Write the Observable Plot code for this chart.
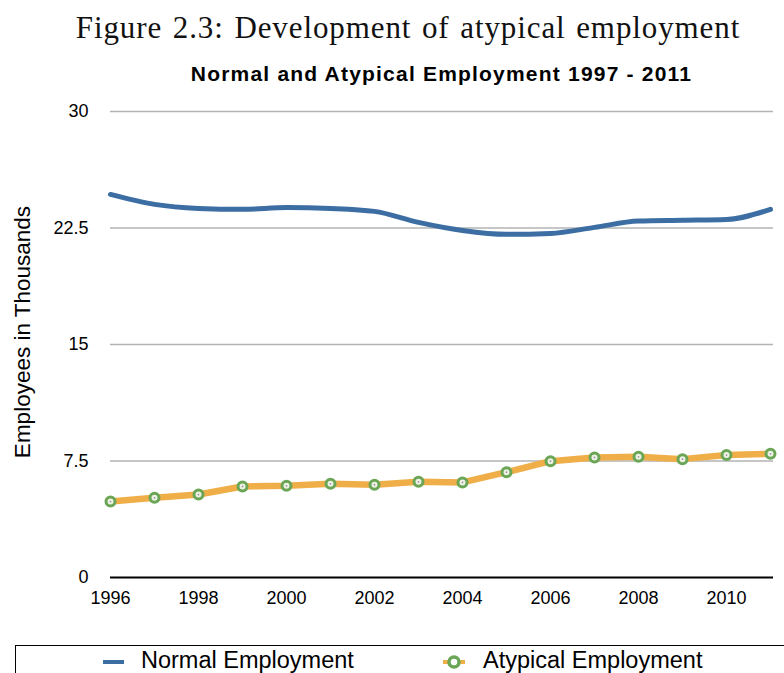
<!DOCTYPE html>
<html>
<head>
<meta charset="utf-8">
<script src="https://cdn.jsdelivr.net/npm/d3@7"></script>
<script src="https://cdn.jsdelivr.net/npm/@observablehq/plot@0.6"></script>
<style>
  html, body { margin: 0; padding: 0; background: #fff; }
  #wrap { position: relative; width: 784px; height: 673px; overflow: hidden; font-family: "Liberation Sans", Arial, sans-serif; }
  #caption { position: absolute; left: 0; width: 816px; top: 10px; text-align: center; font-family: "Liberation Serif", "DejaVu Serif", serif; font-size: 31px; letter-spacing: 0.9px; word-spacing: 2px; color: #111; white-space: nowrap; }
  #title { position: absolute; left: 110px; width: 663px; top: 62px; text-align: center; font-weight: bold; font-size: 21px; letter-spacing: 1.2px; color: #000; white-space: nowrap; }
  #ylabel { position: absolute; left: 23px; top: 332px; transform: translate(-50%, -50%) rotate(-90deg); font-size: 22.5px; white-space: nowrap; color: #000; }
  #chart { position: absolute; left: 0; top: 90px; }
  #legend { position: absolute; left: 15px; top: 645px; width: 820px; height: 60px; border-top: 1.5px solid #000; border-left: 1.5px solid #000; }
  .item { position: absolute; top: 1px; font-size: 23.5px; white-space: nowrap; color: #000; }
</style>
</head>
<body>
<div id="wrap">
  <div id="caption">Figure 2.3: Development of atypical employment</div>
  <div id="title">Normal and Atypical Employment 1997 - 2011</div>
  <div id="ylabel">Employees in Thousands</div>
  <div id="chart"></div>
  <div id="legend"></div>
</div>
<script>
const years = [1996, 1997, 1998, 1999, 2000, 2001, 2002, 2003, 2004, 2005, 2006, 2007, 2008, 2009, 2010, 2011];
const normalEmployment = [24.66, 24.02, 23.76, 23.7, 23.82, 23.76, 23.57, 22.86, 22.34, 22.09, 22.15, 22.54, 22.95, 23.0, 23.05, 23.7];
const atypicalEmployment = [4.89, 5.13, 5.34, 5.86, 5.9, 6.03, 5.97, 6.16, 6.12, 6.78, 7.49, 7.73, 7.77, 7.62, 7.88, 7.96];
const yTicks = [0, 7.5, 15, 22.5, 30];
const yTickLabels = ["0", "7.5", "15", "22.5", "30"];
const xTicks = [1996, 1998, 2000, 2002, 2004, 2006, 2008, 2010];
const seriesNames = ["Normal Employment", "Atypical Employment"];
const seriesColors = ["#3d6ea3", "#efae48"];
const markerColor = "#6aa655";

const normalData = years.map((y, i) => ({year: y, value: normalEmployment[i]}));
const atypicalData = years.map((y, i) => ({year: y, value: atypicalEmployment[i]}));

const plot = Plot.plot({
  width: 784,
  height: 540,
  marginTop: 21,
  marginBottom: 53,
  marginLeft: 110,
  marginRight: 14,
  style: {fontFamily: "'Liberation Sans', Arial, sans-serif", fontSize: "18px", color: "#000", background: "transparent"},
  x: {domain: [1996, 2011]},
  y: {domain: [0, 30]},
  marks: [
    Plot.ruleY(yTicks.filter(d => d > 0), {stroke: "#b3b3b3", strokeWidth: 1.5, insetRight: -3}),
    Plot.ruleY([0], {stroke: "#000", strokeWidth: 2, insetRight: -3}),
    Plot.axisY({ticks: yTicks, tickFormat: d => yTickLabels[yTicks.indexOf(d)], tickSize: 0, tickPadding: 22, label: null, fontSize: 18}),
    Plot.axisX({ticks: xTicks, tickFormat: d => String(d), tickSize: 0, tickPadding: 14, label: null, fontSize: 18}),
    Plot.line(normalData, {x: "year", y: "value", stroke: seriesColors[0], strokeWidth: 5, curve: "monotone-x"}),
    Plot.line(atypicalData, {x: "year", y: "value", stroke: seriesColors[1], strokeWidth: 6.5}),
    Plot.dot(atypicalData, {x: "year", y: "value", r: 4.5, stroke: markerColor, strokeWidth: 3, fill: "#eef2e6"}),
    Plot.dot(atypicalData, {x: "year", y: "value", r: 0.9, fill: "#999"})
  ]
});
document.getElementById("chart").appendChild(plot);

// Legend
const legend = document.getElementById("legend");
const sw1 = document.createElementNS("http://www.w3.org/2000/svg", "svg");
sw1.setAttribute("width", 30); sw1.setAttribute("height", 20);
sw1.style.position = "absolute"; sw1.style.left = "85px"; sw1.style.top = "6px";
sw1.innerHTML = `<line x1="2" x2="23" y1="10" y2="10" stroke="${seriesColors[0]}" stroke-width="4"/>`;
legend.appendChild(sw1);
const t1 = document.createElement("div"); t1.className = "item"; t1.style.left = "125px"; t1.textContent = seriesNames[0];
legend.appendChild(t1);
const sw2 = document.createElementNS("http://www.w3.org/2000/svg", "svg");
sw2.setAttribute("width", 30); sw2.setAttribute("height", 20);
sw2.style.position = "absolute"; sw2.style.left = "423px"; sw2.style.top = "6px";
sw2.innerHTML = `<line x1="4" x2="26" y1="10" y2="10" stroke="${seriesColors[1]}" stroke-width="4"/><circle cx="15" cy="10" r="5" fill="#fff" stroke="${markerColor}" stroke-width="3.5"/>`;
legend.appendChild(sw2);
const t2 = document.createElement("div"); t2.className = "item"; t2.style.left = "467px"; t2.textContent = seriesNames[1];
legend.appendChild(t2);
</script>
</body>
</html>
